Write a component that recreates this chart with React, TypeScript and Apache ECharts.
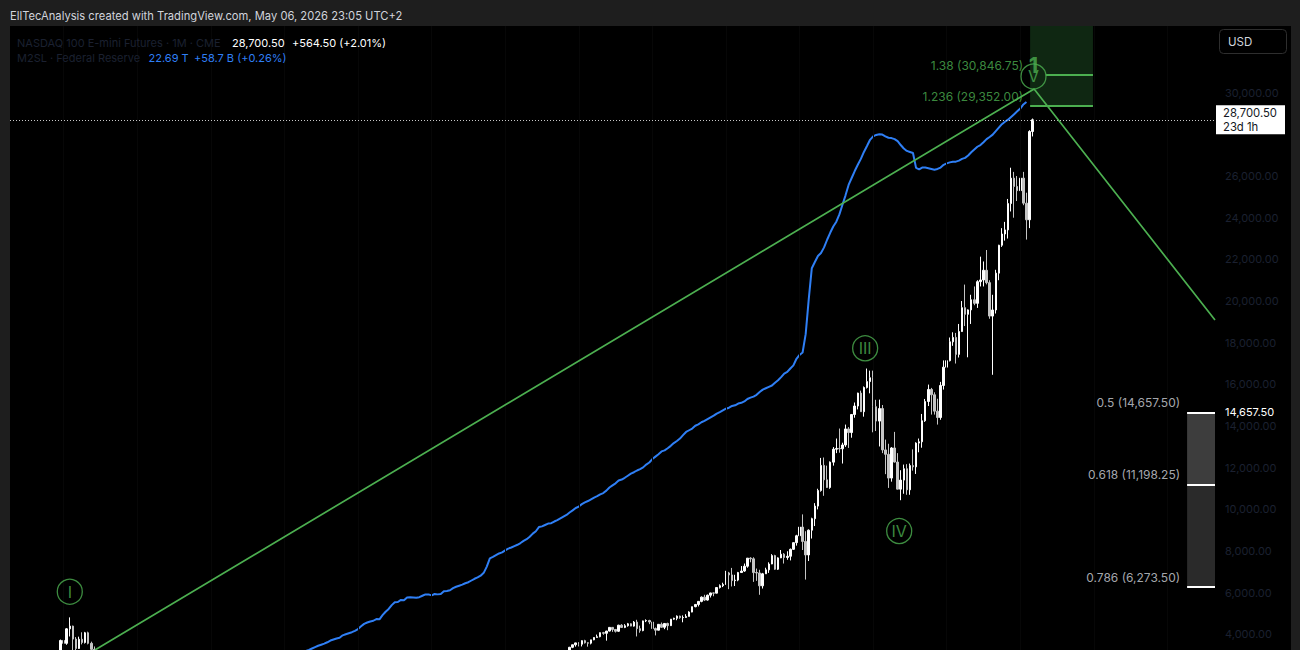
import React, { useEffect, useRef } from "react";
import * as echarts from "echarts";

// ---------- DATA ----------
// Monthly NASDAQ 100 E-mini futures candles, [open, high, low, close]; month index 0 = Aug 1998
const nq1998 = [[1390,1420,1140,1150],[1150,1380,1100,1345],[1345,1500,1170,1475],[1475,1700,1450,1680],[1680,1850,1590,1836]];
const nq1999 = [[1836,2180,1830,2128],[2128,2170,1900,1950],[1950,2150,1920,2106],[2106,2300,2000,2142],[2142,2230,1980,2090],[2090,2310,2050,2296],[2296,2430,2260,2284],[2284,2420,2150,2412],[2412,2530,2330,2407],[2407,2660,2280,2638],[2638,3070,2630,3054],[3054,3750,3040,3708]];
const nq2000 = [[3708,3840,3320,3570],[3570,4300,3500,4266],[4266,4816,3900,4397],[4397,4420,3020,3773],[3773,3870,3150,3324],[3324,3890,3300,3764],[3764,4100,3520,3609],[3609,4120,3560,4077],[4077,4130,3520,3570],[3570,3650,2980,3282],[3282,3420,2450,2506],[2506,2750,2240,2342]];
const nq2001 = [[2342,2790,2300,2593],[2593,2620,1900,1909],[1909,1990,1550,1573],[1573,1930,1440,1855],[1855,2030,1760,1800],[1800,1890,1620,1831],[1831,1850,1630,1726],[1726,1740,1450,1470],[1470,1500,1090,1169],[1169,1420,1130,1364],[1364,1610,1340,1597],[1597,1730,1560,1577]];
const nq2002 = [[1577,1650,1470,1550],[1550,1560,1320,1359],[1359,1510,1350,1453],[1453,1460,1260,1277],[1277,1320,1140,1209],[1209,1210,990,1051],[1051,1060,870,963],[963,1050,900,961],[961,990,830,832],[832,1010,795,989],[989,1140,980,1116],[1116,1130,970,984]];
const nq2003 = [[984,1090,980,1009],[1009,1050,960,1033],[1033,1110,970,1018],[1018,1120,1010,1106],[1106,1210,1090,1200],[1200,1250,1170,1201],[1201,1290,1200,1266],[1266,1320,1230,1313],[1313,1380,1290,1303],[1303,1420,1300,1412],[1412,1440,1350,1418],[1418,1470,1390,1468]];
const nq2004 = [[1468,1560,1460,1493],[1493,1510,1430,1442],[1442,1470,1340,1439],[1439,1480,1380,1385],[1385,1450,1340,1439],[1439,1520,1420,1516],[1516,1520,1380,1409],[1409,1420,1300,1364],[1364,1430,1350,1412],[1412,1500,1390,1489],[1489,1590,1480,1581],[1581,1630,1560,1621]];
const nq2005 = [[1621,1630,1500,1519],[1519,1560,1490,1503],[1503,1530,1470,1482],[1482,1500,1390,1394],[1394,1520,1390,1513],[1513,1560,1480,1493],[1493,1620,1490,1605],[1605,1630,1570,1581],[1581,1620,1550,1601],[1601,1620,1530,1579],[1579,1690,1570,1682],[1682,1710,1640,1645]];
const nq2006 = [[1645,1740,1640,1710],[1710,1720,1650,1688],[1688,1720,1660,1703],[1703,1750,1690,1702],[1702,1710,1560,1580],[1580,1610,1520,1575],[1575,1590,1450,1503],[1503,1590,1490,1579],[1579,1660,1560,1654],[1654,1750,1640,1737],[1737,1810,1730,1797],[1797,1800,1730,1756]];
const nq2007 = [[1756,1820,1740,1791],[1791,1840,1740,1768],[1768,1800,1700,1772],[1772,1880,1770,1874],[1874,1940,1860,1930],[1930,1950,1900,1934],[1934,2030,1910,1932],[1932,1970,1820,1957],[1957,2100,1940,2091],[2091,2240,2070,2238],[2238,2240,1990,2100],[2100,2140,2020,2085]];
const nq2008 = [[2085,2090,1740,1821],[1821,1870,1720,1730],[1730,1800,1680,1781],[1781,1950,1760,1948],[1948,2050,1930,2037],[2037,2050,1830,1837],[1837,1900,1800,1866],[1866,1960,1840,1872],[1872,1880,1440,1563],[1563,1610,1120,1298],[1298,1350,1040,1108],[1108,1260,1100,1212]];
const nq2009 = [[1212,1330,1150,1175],[1175,1250,1070,1080],[1080,1300,1040,1237],[1237,1430,1220,1417],[1417,1480,1380,1458],[1458,1520,1430,1477],[1477,1600,1430,1597],[1597,1650,1570,1633],[1633,1730,1600,1716],[1716,1790,1680,1696],[1696,1820,1690,1794],[1794,1880,1790,1860]];
const nq2010 = [[1860,1900,1730,1738],[1738,1830,1710,1815],[1815,1960,1810,1953],[1953,2040,1950,1984],[1984,2010,1730,1848],[1848,1950,1740,1749],[1749,1900,1740,1869],[1869,1910,1770,1780],[1780,2020,1780,2004],[2004,2140,1990,2131],[2131,2170,2080,2129],[2129,2230,2120,2218]];
const nq2011 = [[2218,2300,2200,2265],[2265,2400,2250,2323],[2323,2340,2230,2339],[2339,2420,2310,2403],[2403,2420,2320,2393],[2393,2410,2220,2300],[2300,2440,2280,2380],[2380,2390,1980,2148],[2148,2310,2080,2098],[2098,2380,2040,2304],[2304,2380,2150,2297],[2297,2340,2220,2278]];
const nq2012 = [[2278,2430,2270,2424],[2424,2630,2420,2613],[2613,2780,2590,2755],[2755,2800,2650,2712],[2712,2740,2480,2530],[2530,2640,2450,2616],[2616,2660,2510,2632],[2632,2800,2610,2773],[2773,2880,2750,2800],[2800,2820,2640,2659],[2659,2690,2500,2677],[2677,2740,2600,2661]];
const nq2013 = [[2661,2760,2650,2731],[2731,2800,2690,2739],[2739,2830,2710,2819],[2819,2850,2720,2838],[2838,3030,2830,2988],[2988,3060,2850,2910],[2910,3100,2900,3090],[3090,3140,3030,3050],[3050,3250,3050,3218],[3218,3400,3150,3380],[3380,3510,3340,3500],[3500,3600,3410,3592]];
const nq2014 = [[3592,3630,3420,3527],[3527,3720,3420,3700],[3700,3740,3560,3596],[3596,3620,3410,3578],[3578,3740,3520,3737],[3737,3860,3720,3850],[3850,3990,3840,3888],[3888,4090,3860,4083],[4083,4120,3980,4050],[4050,4170,3700,4159],[4159,4340,4140,4336],[4336,4350,4120,4236]];
const nq2015 = [[4236,4260,4090,4150],[4150,4460,4120,4441],[4441,4490,4310,4334],[4334,4490,4300,4414],[4414,4550,4370,4508],[4508,4530,4390,4397],[4397,4640,4370,4589],[4589,4700,3900,4274],[4274,4420,4080,4181],[4181,4660,4150,4648],[4648,4720,4590,4665],[4665,4700,4490,4593]];
const nq2016 = [[4593,4600,4100,4279],[4279,4330,3950,4201],[4201,4490,4190,4483],[4483,4570,4320,4341],[4341,4530,4250,4524],[4524,4560,4200,4418],[4418,4740,4400,4731],[4731,4800,4700,4771],[4771,4910,4680,4875],[4875,4900,4750,4801],[4801,4910,4580,4810],[4810,4970,4790,4863]];
const nq2017 = [[4863,5110,4860,5071],[5071,5330,5060,5330],[5330,5460,5300,5436],[5436,5600,5340,5584],[5584,5820,5540,5788],[5788,5900,5600,5647],[5647,5910,5620,5880],[5880,6000,5770,5988],[5988,6010,5830,5979],[5979,6260,5970,6248],[6248,6400,6200,6337],[6337,6480,6270,6397]];
const nq2018 = [[6397,7050,6380,6949],[6949,7000,6170,6854],[6854,7190,6300,6582],[6582,6860,6320,6605],[6605,7000,6550,6968],[6968,7280,6950,7040],[7040,7400,7000,7272],[7272,7650,7200,7660],[7660,7700,7460,7627],[7627,7700,6520,6967],[6967,7160,6570,6949],[6949,7100,5900,6330]];
const nq2019 = [[6330,6950,6200,6907],[6907,7200,6900,7097],[7097,7460,6950,7378],[7378,7850,7370,7781],[7781,7820,7100,7128],[7128,7700,7090,7672],[7672,8050,7660,7848],[7848,7900,7400,7692],[7692,7990,7580,7750],[7750,8120,7550,8083],[8083,8410,8050,8403],[8403,8780,8260,8733]];
const nq2020 = [[8733,9300,8700,9150],[9150,9760,8050,8462],[8462,8950,6630,7813],[7813,9040,7520,9000],[9000,9600,8600,9555],[9555,10300,9200,10157],[10157,10990,10000,10905],[10905,12470,10850,12111],[12111,12490,10650,11418],[11418,12100,11100,11052],[11052,12300,10990,12268],[12268,12990,12100,12888]];
const nq2021 = [[12888,13400,12700,12925],[12925,13880,12720,12909],[12909,13200,12200,13091],[13091,14070,13000,13861],[13861,13950,12950,13687],[13687,14580,13440,14554],[14554,15130,14400,14960],[14960,15600,14800,15582],[15582,15700,14680,14689],[14689,15900,14450,15850],[15850,16760,15800,16135],[16135,16660,15570,16320]];
const nq2022 = [[16320,16660,13700,14930],[14930,15260,13760,14237],[14237,15270,13020,14839],[14839,15010,12700,12855],[12855,13350,11690,12643],[12643,13150,11030,11503],[11503,12990,11330,12947],[12947,13720,12250,12272],[12272,12700,10960,10971],[10971,11880,10440,11405],[11405,12150,10750,11951],[11951,12170,10700,10939]];
const nq2023 = [[10939,12200,10700,12101],[12101,12880,11860,12042],[12042,13220,11700,13181],[13181,13400,12740,13245],[13245,14580,12960,14254],[14254,15300,14200,15179],[15179,15990,14960,15757],[15757,15830,14550,15501],[15501,15620,14550,14715],[14715,15310,14070,14409],[14409,16120,14300,15947],[15947,17150,15750,16826]];
const nq2024 = [[16826,17700,16340,17137],[17137,18250,17100,18043],[18043,18500,17850,18254],[18254,18470,17000,17440],[17440,18900,17290,18536],[18536,20000,18520,19682],[19682,20790,18800,19362],[19362,19600,17300,19575],[19575,20300,18900,20061],[20061,20700,19800,19890],[19890,21000,19670,20930],[20930,22130,20700,21012]];
const nq2025 = [[21012,21900,20700,21478],[21478,22450,20800,20884],[20884,21000,19150,19278],[19278,20300,16460,19571],[19571,21500,19400,21340],[21340,22700,21000,22679],[22679,23500,22600,23218],[23218,23800,22900,23415],[23415,24900,23000,24680],[24680,26400,24300,25900],[25900,26200,24000,25500],[25500,26000,24800,25300]];
const nq2026 = [[25300,26350,24900,25900],[25900,26200,24600,24700],[24700,25200,22950,23900],[23900,28200,23500,28136],[28136,28760,27900,28700.5]];
const NQ_YEARS = [nq1998,nq1999,nq2000,nq2001,nq2002,nq2003,nq2004,nq2005,nq2006,nq2007,nq2008,nq2009,nq2010,nq2011,nq2012,nq2013,nq2014,nq2015,nq2016,nq2017,nq2018,nq2019,nq2020,nq2021,nq2022,nq2023,nq2024,nq2025,nq2026];

// M2SL (trillions USD), monthly from Jan 2005 (month index 77)
const M2_START = 77;
const m2_2005 = [6.42,6.43,6.45,6.45,6.48,6.51,6.53,6.56,6.59,6.61,6.64,6.67];
const m2_2006 = [6.70,6.72,6.75,6.78,6.78,6.81,6.84,6.87,6.90,6.94,6.98,7.02];
const m2_2007 = [7.05,7.08,7.12,7.17,7.20,7.23,7.25,7.32,7.35,7.38,7.41,7.45];
const m2_2008 = [7.50,7.58,7.65,7.69,7.72,7.74,7.79,7.78,7.90,8.00,8.08,8.19];
const m2_2009 = [8.27,8.28,8.34,8.33,8.41,8.42,8.41,8.40,8.42,8.46,8.50,8.50];
const m2_2010 = [8.47,8.51,8.50,8.51,8.59,8.60,8.62,8.68,8.72,8.75,8.78,8.82];
const m2_2011 = [8.85,8.90,8.95,8.99,9.04,9.12,9.30,9.54,9.58,9.63,9.68,9.71];
const m2_2012 = [9.77,9.82,9.85,9.89,9.93,9.98,10.04,10.09,10.16,10.25,10.32,10.44];
const m2_2013 = [10.46,10.50,10.54,10.55,10.60,10.64,10.69,10.74,10.79,10.86,10.92,10.99];
const m2_2014 = [11.03,11.10,11.15,11.19,11.24,11.29,11.33,11.38,11.42,11.49,11.58,11.64];
const m2_2015 = [11.70,11.78,11.81,11.86,11.92,11.98,12.02,12.07,12.11,12.16,12.24,12.30];
const m2_2016 = [12.40,12.47,12.54,12.62,12.65,12.71,12.78,12.86,12.92,12.99,13.09,13.18];
const m2_2017 = [13.23,13.28,13.36,13.40,13.46,13.50,13.55,13.60,13.65,13.71,13.75,13.80];
const m2_2018 = [13.85,13.88,13.93,13.95,14.00,14.02,14.06,14.13,14.17,14.20,14.25,14.33];
const m2_2019 = [14.40,14.44,14.48,14.52,14.60,14.67,14.76,14.86,14.91,15.01,15.10,15.29];
const m2_2020 = [15.40,15.47,16.00,17.00,17.90,18.08,18.25,18.34,18.50,18.72,18.92,19.10];
const m2_2021 = [19.24,19.45,19.73,20.00,20.30,20.50,20.70,20.88,21.05,21.25,21.42,21.60];
const m2_2022 = [21.70,21.74,21.76,21.75,21.70,21.66,21.65,21.62,21.56,21.45,21.35,21.28];
const m2_2023 = [21.25,21.22,20.79,20.75,20.80,20.80,20.78,20.76,20.74,20.76,20.80,20.88];
const m2_2024 = [20.92,20.95,20.97,20.97,21.00,21.05,21.08,21.15,21.24,21.32,21.40,21.45];
const m2_2025 = [21.53,21.62,21.68,21.75,21.85,21.95,22.05,22.12,22.18,22.26,22.34,22.42];
const m2_2026 = [22.50,22.62,22.69];
const M2_YEARS = [m2_2005,m2_2006,m2_2007,m2_2008,m2_2009,m2_2010,m2_2011,m2_2012,m2_2013,m2_2014,m2_2015,m2_2016,m2_2017,m2_2018,m2_2019,m2_2020,m2_2021,m2_2022,m2_2023,m2_2024,m2_2025,m2_2026];

// Axis ticks (price) and faint time grid (January of even years, month index)
const PRICE_TICKS = [4000,6000,8000,10000,12000,14000,16000,18000,20000,22000,24000,26000,30000];
const TIME_GRID = [17,41,65,89,113,137,161,185,209,233,257,281,305,329,353,377];
const PRICE_MIN = 3250;
const PRICE_MAX = 33202;
const M2_MIN = 6.897;
const M2_MAX = 24.88;
const T_MIN = -0.5;
const T_MAX = 392.5;

// Elliott wave labels
const WAVE_NAMES = ["I","III","IV","V"];
const WAVE_T = [19, 278.4, 289.5, 333.3];
const WAVE_P = [6050, 17730, 8960, 30780];
const DEGREE_NAME = "1";
const DEGREE_T = 333.3;
const DEGREE_P = 31330;

// Trend lines
const TREND_T = [27.2, 333.5, 392.5];
const TREND_P = [3250, 30180, 19090];

// Fib extension (green)
const EXT_RATIOS = ["1.38","1.236"];
const EXT_PRICES = [30846.75, 29352.0];
const EXT_T = [332.2, 352.7];
const EXT_LINE_T0 = [337.4, 332.2];
// Fib retracement (grey)
const RET_RATIOS = ["0.5","0.618","0.786"];
const RET_PRICES = [14657.5, 11198.25, 6273.5];
const RET_T = [383.4, 392.5];

// Header & legend
const TITLE = "EllTecAnalysis created with TradingView.com, May 06, 2026 23:05 UTC+2";
const NQ_NAME = "NASDAQ 100 E-mini Futures · 1M · CME";
const LAST_PRICE = 28700.5;
const LAST_CHANGE = "+564.50 (+2.01%)";
const COUNTDOWN = "23d 1h";
const M2_NAME = "M2SL · Federal Reserve";
const M2_LAST = "22.69 T";
const M2_CHANGE = "+58.7 B (+0.26%)";

const GREEN = "#4caf50";
const BLUE = "#2f7ff5";
const DIM = "#1b2030";
const FONT = "Inter, 'Noto Sans', sans-serif";

const fmt = (v: number) => v.toLocaleString("en-US", { minimumFractionDigits: 2, maximumFractionDigits: 2 });

export default function App() {
  const ref = useRef<HTMLDivElement>(null);
  useEffect(() => {
    if (!ref.current) return;
    const chart = echarts.init(ref.current, undefined, { renderer: "svg" });

    const candles: any[] = [];
    let idx = 0;
    NQ_YEARS.forEach((yr) => yr.forEach((d) => { candles.push([idx, d[0], d[3], d[2], d[1]]); idx++; }));
    const m2: any[] = [];
    let mi = M2_START;
    M2_YEARS.forEach((yr) => yr.forEach((v) => { m2.push([mi, v]); mi++; }));

    const trend = TREND_T.map((t, i) => [t, TREND_P[i]]);
    const waves = WAVE_NAMES.map((n, i) => [WAVE_T[i], WAVE_P[i], n]);

    const fibLabels: any[] = [];
    EXT_RATIOS.forEach((r, i) => fibLabels.push({ value: [EXT_T[0], EXT_PRICES[i], `${r} (${fmt(EXT_PRICES[i])})`], label: { color: GREEN } }));
    RET_RATIOS.forEach((r, i) => fibLabels.push({ value: [RET_T[0], RET_PRICES[i], `${r} (${fmt(RET_PRICES[i])})`], label: { color: "#d1d4dc" } }));

    const markLines: any[] = [];
    EXT_PRICES.forEach((p, i) => markLines.push([
      { coord: [EXT_LINE_T0[i], p], lineStyle: { color: GREEN, width: 2, type: "solid" }, label: { show: false } },
      { coord: [EXT_T[1], p] },
    ]));
    RET_PRICES.forEach((p, i) => markLines.push([
      { coord: [RET_T[0], p], lineStyle: { color: "#ffffff", width: 2, type: "solid" },
        label: i === 0 ? { show: true, position: "end", distance: 10, color: "#ffffff", fontSize: 11, fontFamily: FONT, formatter: fmt(p) } : { show: false } },
      { coord: [RET_T[1], p] },
    ]));
    markLines.push({
      yAxis: LAST_PRICE,
      lineStyle: { color: "#c8c8c8", width: 1, type: [1, 2] },
      label: {
        show: true, position: "end", distance: 1,
        formatter: `${fmt(LAST_PRICE)}\n${COUNTDOWN}`,
        backgroundColor: "#ffffff", color: "#131722", fontSize: 11.3, fontFamily: FONT,
        lineHeight: 14, padding: [1, 8, 0, 7], width: 54, align: "left",
      },
    });

    const gridLines = TIME_GRID.map((t) => ({ xAxis: t, lineStyle: { color: "#070707", width: 1, type: "solid" }, label: { show: false } }));

    const option: any = {
      animation: false,
      backgroundColor: "#000000",
      grid: { left: 10, top: 26, width: 1205, height: 624, containLabel: false },
      xAxis: { type: "value", min: T_MIN, max: T_MAX, show: false },
      yAxis: [
        {
          type: "value", position: "right", min: PRICE_MIN, max: PRICE_MAX,
          axisLine: { show: false }, axisTick: { show: false }, splitLine: { show: false },
          axisLabel: { customValues: PRICE_TICKS, color: DIM, fontSize: 11, fontFamily: FONT, margin: 10, formatter: (v: number) => fmt(v) },
        },
        { type: "value", min: M2_MIN, max: M2_MAX, show: false },
      ],
      series: [
        {
          type: "line", data: [], silent: true, z: 1,
          markLine: { silent: true, symbol: ["none", "none"], data: gridLines },
        },
        {
          type: "candlestick", data: candles, barWidth: 2, clip: true,
          itemStyle: { color: "#ffffff", color0: "#c4c4c4", borderColor: "#ffffff", borderColor0: "#c4c4c4", borderWidth: 1 },
          z: 3,
        },
        {
          type: "line", yAxisIndex: 1, data: m2, showSymbol: false, symbol: "none", clip: true,
          lineStyle: { color: BLUE, width: 2 }, z: 4,
        },
        {
          type: "line", data: trend, showSymbol: false, symbol: "none", clip: true,
          lineStyle: { color: GREEN, width: 1.7 }, z: 5,
          markArea: {
            silent: true,
            data: [
              [{ coord: [EXT_T[0], EXT_PRICES[1]], itemStyle: { color: "#0f2712" } }, { coord: [EXT_T[1], PRICE_MAX] }],
              [{ coord: [RET_T[0], RET_PRICES[0]], itemStyle: { color: "#3d3d3d" } }, { coord: [RET_T[1], RET_PRICES[1]] }],
              [{ coord: [RET_T[0], RET_PRICES[1]], itemStyle: { color: "#2a2a2a" } }, { coord: [RET_T[1], RET_PRICES[2]] }],
            ],
          },
          markLine: { silent: true, symbol: ["none", "none"], data: markLines },
        },
        {
          type: "scatter", data: waves, symbol: "circle", symbolSize: 25, z: 6,
          itemStyle: { color: "rgba(0,0,0,0)", borderColor: GREEN, borderWidth: 1.3 },
          label: { show: true, position: "inside", color: GREEN, fontSize: 16, fontFamily: FONT, formatter: (p: any) => p.data[2] },
        },
        {
          type: "scatter", data: [[DEGREE_T, DEGREE_P, DEGREE_NAME]], symbol: "circle", symbolSize: 0, z: 7,
          label: { show: true, position: "inside", color: GREEN, fontSize: 22, fontWeight: "bold", fontFamily: FONT, formatter: (p: any) => p.data[2] },
        },
        {
          type: "scatter", data: fibLabels, symbol: "circle", symbolSize: 0, z: 7,
          label: { show: true, position: "left", distance: 7, offset: [0, -10], fontSize: 12, fontFamily: FONT, formatter: (p: any) => p.data.value[2] },
        },
      ],
      graphic: [
        { type: "rect", shape: { x: 0, y: 0, width: 1300, height: 26 }, style: { fill: "#1e1e1e" }, z: 100 },
        { type: "rect", shape: { x: 0, y: 26, width: 10, height: 624 }, style: { fill: "#1e1e1e" }, z: 100 },
        { type: "rect", shape: { x: 1291, y: 26, width: 9, height: 624 }, style: { fill: "#1e1e1e" }, z: 100 },
        { type: "text", x: 10, y: 16, style: { text: TITLE, fill: "#d1d4dc", font: `11.2px ${FONT}`, verticalAlign: "middle" }, z: 101 },
        { type: "rect", shape: { x: 1219.5, y: 29.5, width: 67, height: 24, r: 4 }, style: { fill: "#000", stroke: "#2e2e2e", lineWidth: 1 }, z: 101 },
        { type: "text", x: 1228, y: 42, style: { text: "USD", fill: "#d1d4dc", font: `11.5px ${FONT}`, verticalAlign: "middle" }, z: 102 },
        { type: "text", x: 17, y: 42.5, style: { text: NQ_NAME, fill: DIM, font: `11px ${FONT}`, verticalAlign: "middle" }, z: 101 },
        { type: "text", x: 232, y: 42.5, style: { text: fmt(LAST_PRICE), fill: "#ffffff", font: `11px ${FONT}`, verticalAlign: "middle" }, z: 101 },
        { type: "text", x: 292, y: 42.5, style: { text: LAST_CHANGE, fill: "#ffffff", font: `11px ${FONT}`, verticalAlign: "middle" }, z: 101 },
        { type: "text", x: 17, y: 58, style: { text: M2_NAME, fill: DIM, font: `11px ${FONT}`, verticalAlign: "middle" }, z: 101 },
        { type: "text", x: 148.5, y: 58, style: { text: M2_LAST, fill: BLUE, font: `11px ${FONT}`, verticalAlign: "middle" }, z: 101 },
        { type: "text", x: 194, y: 58, style: { text: M2_CHANGE, fill: BLUE, font: `11px ${FONT}`, verticalAlign: "middle" }, z: 101 },
      ],
    };
    chart.setOption(option);
    return () => chart.dispose();
  }, []);
  return <div ref={ref} style={{ position: "absolute", left: 0, top: 0, width: 1300, height: 650 }} />;
}
